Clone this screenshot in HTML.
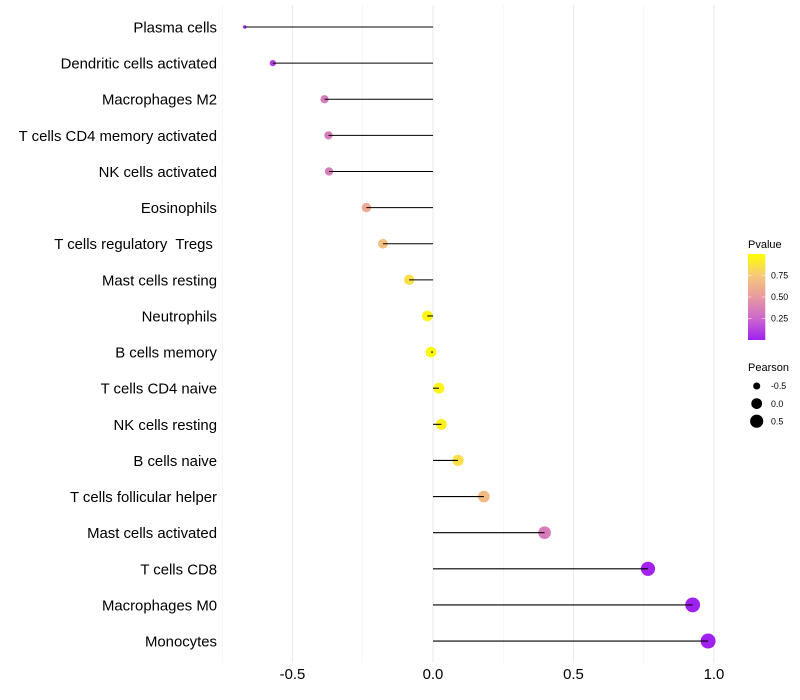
<!DOCTYPE html>
<html>
<head>
<meta charset="utf-8">
<style>
html,body{margin:0;padding:0;background:#fff;}
#chart{display:block;width:800px;height:700px;font-family:"Liberation Sans",sans-serif;}
text{font-family:"Liberation Sans",sans-serif;white-space:pre;}
</style>
</head>
<body>
<svg id="chart" xmlns="http://www.w3.org/2000/svg" width="800" height="700" viewBox="0 0 800 700" xml:space="preserve">
<defs><linearGradient id="pvalue-gradient" x1="0" y1="1" x2="0" y2="0"></linearGradient></defs>
</svg>
<script>
const categories = ["Plasma cells","Dendritic cells activated","Macrophages M2","T cells CD4 memory activated","NK cells activated","Eosinophils","T cells regulatory  Tregs ","Mast cells resting","Neutrophils","B cells memory","T cells CD4 naive","NK cells resting","B cells naive","T cells follicular helper","Mast cells activated","T cells CD8","Macrophages M0","Monocytes"];
const pearson = [-0.67,-0.57,-0.386,-0.372,-0.37,-0.237,-0.178,-0.085,-0.02,-0.007,0.021,0.03,0.089,0.181,0.397,0.765,0.924,0.979];
const pvalues = [0.02,0.1,0.35,0.35,0.35,0.58,0.7,0.85,0.95,0.98,0.95,0.93,0.85,0.68,0.35,0.01,0.001,0.001];
const xTicks = [-0.5,0,0.5,1];
const xTickLabels = ["-0.5","0.0","0.5","1.0"];
const xMinorTicks = [-0.75,-0.25,0.25,0.75];
const colorTicks = [0.25,0.5,0.75];
const colorTickLabels = ["0.25","0.50","0.75"];
const sizeLegendValues = [-0.5,0,0.5];
const sizeLegendLabels = ["-0.5","0.0","0.5"];
const colorStops = ["#a020f0","#cb68cd","#e89a9f","#f6c878","#ffff00"];

const svg = document.getElementById('chart');
const NS = 'http://www.w3.org/2000/svg';
function make(tag, attrs, parent){
  const el = document.createElementNS(NS, tag);
  for (const k in attrs) el.setAttribute(k, attrs[k]);
  (parent || svg).appendChild(el);
  return el;
}
function xScale(v){ return 433 + v * 281; }
function yScale(i){ return 27 + i * 36.12; }
function rScale(v){ return 1.7 + 5.8 * Math.sqrt(Math.max(0, (v + 0.67) / 1.65)); }
function colorScale(p){
  const t = Math.min(1, Math.max(0, p)) * (colorStops.length - 1);
  const i = Math.min(colorStops.length - 2, Math.floor(t));
  const f = t - i;
  const a = colorStops[i], b = colorStops[i + 1];
  const ch = [1, 3, 5].map(function(s){
    const ca = parseInt(a.substr(s, 2), 16), cb = parseInt(b.substr(s, 2), 16);
    return Math.round(ca + (cb - ca) * f);
  });
  return 'rgb(' + ch.join(',') + ')';
}
function colorBarY(p){ return 340 - p * 86; }

/* grid */
xMinorTicks.forEach(function(v){
  const l = make('line', {x1:xScale(v), x2:xScale(v), y1:5, y2:663, stroke:'#f0f0f0', 'stroke-width':0.6});
  
  
});
xTicks.forEach(function(v){
  const l = make('line', {x1:xScale(v), x2:xScale(v), y1:5, y2:663, stroke:'#ebebeb', 'stroke-width':1.1});
  
  
});

/* points then segments */
categories.forEach(function(c, i){
  const p = make('circle', {cx:xScale(pearson[i]), cy:yScale(i), r:rScale(pearson[i]), fill:colorScale(pvalues[i])});
  
  
});
categories.forEach(function(c, i){
  const s = make('line', {x1:xScale(0), x2:xScale(pearson[i]), y1:yScale(i), y2:yScale(i), stroke:'#000', 'stroke-width':1.05});
  
  
});

/* y labels */
categories.forEach(function(c, i){
  const t = make('text', {x:217, y:yScale(i) + 5.5, 'text-anchor':'end', 'font-size':14.9, fill:'#000'});
  t.textContent = c;
  
  
});

/* x labels */
xTicks.forEach(function(v, i){
  const t = make('text', {x:xScale(v), y:679, 'text-anchor':'middle', 'font-size':14.9, fill:'#000'});
  t.textContent = xTickLabels[i];
  
  
});

/* color legend */
const grad = document.getElementById('pvalue-gradient');
colorStops.forEach(function(c, i){
  make('stop', {offset:(i / (colorStops.length - 1)), 'stop-color':c}, grad);
});
const pTitle = make('text', {x:748, y:248, 'font-size':11, fill:'#000'});
pTitle.textContent = 'Pvalue';


const bar = make('rect', {x:748, y:254, width:17.3, height:86, fill:'url(#pvalue-gradient)'});


colorTicks.forEach(function(v, i){
  const y = colorBarY(v);
  const a = make('line', {x1:748, x2:751.5, y1:y, y2:y, stroke:'#fff', 'stroke-width':0.5});
  
  
  const b = make('line', {x1:761.8, x2:765.3, y1:y, y2:y, stroke:'#fff', 'stroke-width':0.5});
  
  
  const t = make('text', {x:771, y:y + 3.2, 'font-size':8.8, fill:'#000'});
  t.textContent = colorTickLabels[i];
  
  
});

/* size legend */
const sTitle = make('text', {x:748, y:371, 'font-size':11, fill:'#000'});
sTitle.textContent = 'Pearson';


sizeLegendValues.forEach(function(v, i){
  const y = 386 + i * 17.6;
  const c = make('circle', {cx:756.7, cy:y, r:rScale(v), fill:'#000'});
  
  
  const t = make('text', {x:771, y:y + 3.2, 'font-size':8.8, fill:'#000'});
  t.textContent = sizeLegendLabels[i];
  
  
});
</script>
</body>
</html>
